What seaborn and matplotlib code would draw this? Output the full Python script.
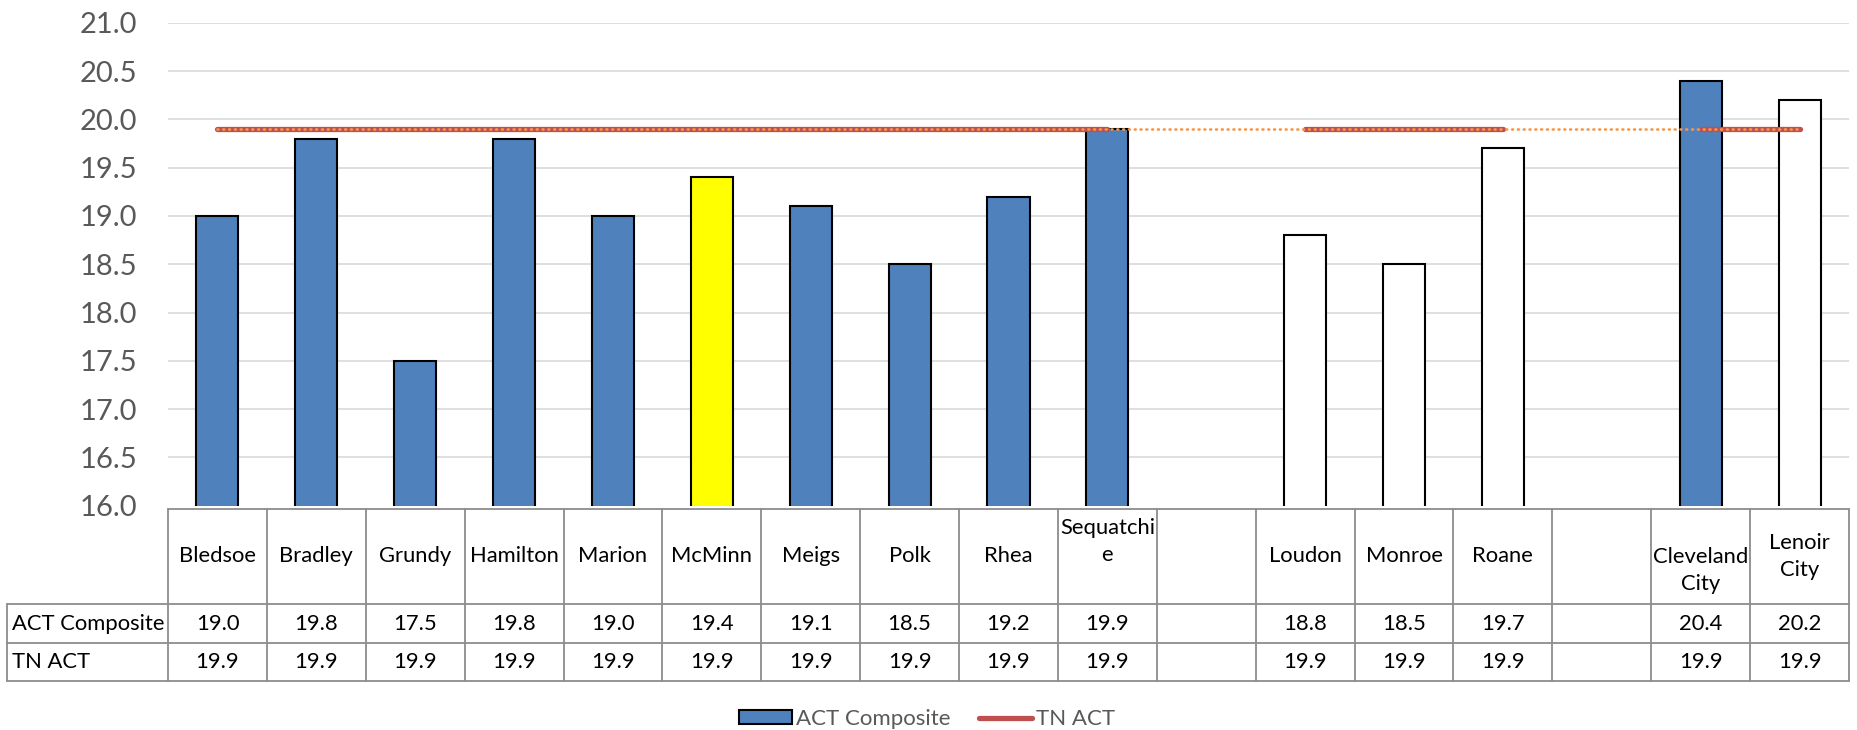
import numpy as np
import pandas as pd
import matplotlib
matplotlib.use("Agg")
import matplotlib.pyplot as plt
import seaborn as sns
from matplotlib.patches import Patch
from matplotlib.lines import Line2D
from matplotlib.transforms import blended_transform_factory

# ---------------- data ----------------
categories = ["Bledsoe", "Bradley", "Grundy", "Hamilton", "Marion", "McMinn",
              "Meigs", "Polk", "Rhea", "Sequatchie", " ", "Loudon", "Monroe",
              "Roane", "  ", "Cleveland City", "Lenoir City"]
header_labels = ["Bledsoe", "Bradley", "Grundy", "Hamilton", "Marion", "McMinn",
                 "Meigs", "Polk", "Rhea", "Sequatchi\ne", "", "Loudon", "Monroe",
                 "Roane", "", "Cleveland\nCity", "Lenoir\nCity"]
act_composite = [19.0, 19.8, 17.5, 19.8, 19.0, 19.4, 19.1, 18.5, 19.2, 19.9,
                 np.nan, 18.8, 18.5, 19.7, np.nan, 20.4, 20.2]
tn_act = [19.9, 19.9, 19.9, 19.9, 19.9, 19.9, 19.9, 19.9, 19.9, 19.9,
          np.nan, 19.9, 19.9, 19.9, np.nan, 19.9, 19.9]
row_names = ["ACT Composite", "TN ACT"]
y_ticks = [16.0, 16.5, 17.0, 17.5, 18.0, 18.5, 19.0, 19.5, 20.0, 20.5, 21.0]

# ---------------- styles ----------------
BLUE, YELLOW, WHITE = "#4F81BD", "#FFFF00", "#FFFFFF"
bar_colors = [BLUE, BLUE, BLUE, BLUE, BLUE, YELLOW, BLUE, BLUE, BLUE, BLUE,
              WHITE, WHITE, WHITE, WHITE, WHITE, BLUE, WHITE]
label_dy = {9: -15, 15: 14}   # vertical nudges (px) for a few header labels
TFS = 15.8

sns.set_theme(style="white")
plt.rcParams["font.family"] = ["Lato", "DejaVu Sans"]

W, H = 1858, 730
fig = plt.figure(figsize=(W / 100, H / 100), dpi=100)

left_px, right_px = 168, 1849
top_px, base_px = 22.7, 505.7
ax = fig.add_axes([left_px / W, 1 - base_px / H, (right_px - left_px) / W,
                   (base_px - top_px) / H])

df = pd.DataFrame({"District": categories, "ACT": act_composite})
sns.barplot(data=df, x="District", y="ACT", order=categories, hue="District",
            hue_order=categories, palette=dict(zip(categories, bar_colors)),
            legend=False, width=0.425, edgecolor="black", linewidth=1.5,
            saturation=1, ax=ax, zorder=3)

xs = np.arange(len(categories))
tn = np.array(tn_act)
ax.plot(xs, tn, color="#C0504D", lw=3.8, solid_capstyle="round", zorder=4)
mask = ~np.isnan(tn)
ax.plot(xs[mask], tn[mask], color="#F79646", lw=1.9, linestyle=(0, (0.35, 1.85)),
        dash_capstyle="round", zorder=5)

ax.set_xlim(-0.5, len(categories) - 0.5)
ax.set_ylim(16, 21)
ax.set_yticks(y_ticks)
ax.set_yticklabels([f"{v:.1f}" for v in y_ticks], fontsize=21, color="#595959")
ax.tick_params(axis="y", length=0, pad=22)
ax.set_xticks([])
ax.set_xlabel("")
ax.set_ylabel("")
for s in ax.spines.values():
    s.set_visible(False)
for v in y_ticks[1:]:
    ax.axhline(v, color="#D9D9D9", lw=1.2, zorder=0)

# ---------------- data table ----------------
ov = fig.add_axes([0, 0, 1, 1], zorder=-1)
ov.set_xlim(0, W)
ov.set_ylim(H, 0)
ov.axis("off")
tr = blended_transform_factory(ax.transData, ov.transData)

hdr_top, hdr_bot, r1_bot, r2_bot = 509, 604, 643, 681
lc, lw = "#8C8C8C", 1.3
n = len(categories)
ov.plot([-0.5, n - 0.5], [hdr_top, hdr_top], transform=tr, color=lc, lw=lw)
for yy in (hdr_bot, r1_bot, r2_bot):
    ov.plot([7, right_px], [yy, yy], color=lc, lw=lw)
for i in range(n + 1):
    ov.plot([i - 0.5, i - 0.5], [hdr_top, r2_bot], transform=tr, color=lc, lw=lw)
ov.plot([7, 7], [hdr_bot, r2_bot], color=lc, lw=lw)

hdr_mid = (hdr_top + hdr_bot) / 2
r1_mid = (hdr_bot + r1_bot) / 2
r2_mid = (r1_bot + r2_bot) / 2
for i, lab in enumerate(header_labels):
    if lab:
        ov.text(i, hdr_mid + label_dy.get(i, 0), lab, transform=tr, ha="center",
                va="center", fontsize=TFS, color="black", linespacing=1.4)
    if not np.isnan(act_composite[i]):
        ov.text(i, r1_mid, f"{act_composite[i]:.1f}", transform=tr, ha="center",
                va="center", fontsize=TFS, color="black")
    if not np.isnan(tn_act[i]):
        ov.text(i, r2_mid, f"{tn_act[i]:.1f}", transform=tr, ha="center",
                va="center", fontsize=TFS, color="black")
ov.text(12, r1_mid, row_names[0], ha="left", va="center", fontsize=TFS, color="black")
ov.text(12, r2_mid, row_names[1], ha="left", va="center", fontsize=TFS, color="black")

# ---------------- legend ----------------
handles = [Patch(facecolor=BLUE, edgecolor="black", linewidth=1.5),
           Line2D([0], [0], color="#C0504D", lw=3.8, solid_capstyle="round")]
fig.legend(handles, row_names, loc="center", bbox_to_anchor=(927 / W, 1 - 719 / H),
           ncol=2, frameon=False, fontsize=16, labelcolor="#595959",
           handlelength=2.4, handleheight=0.6, handletextpad=0.15,
           columnspacing=1.3)

fig.savefig("out.png", dpi=100)
